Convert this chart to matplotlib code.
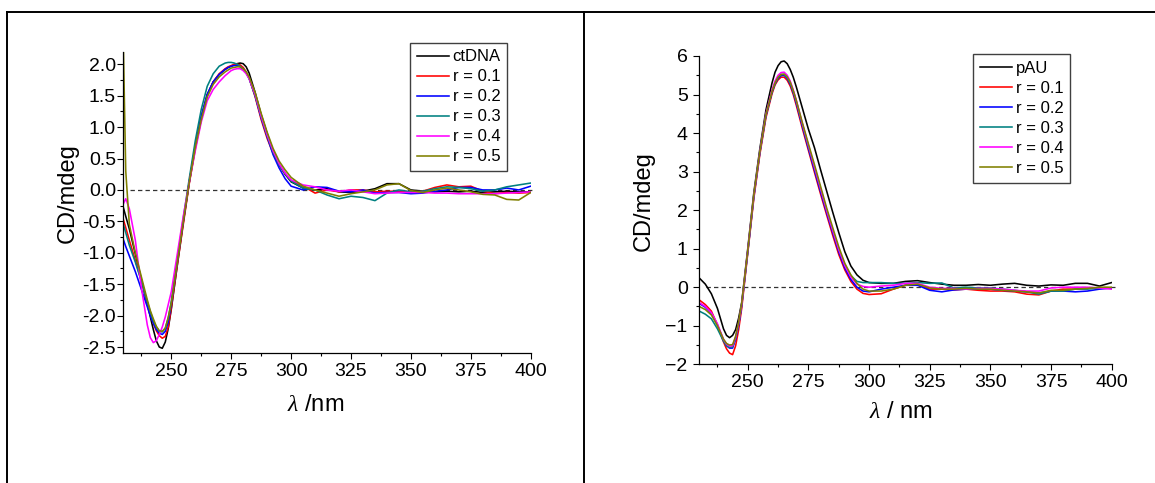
import matplotlib
matplotlib.use("Agg")
import matplotlib.pyplot as plt
from matplotlib.ticker import MultipleLocator, FormatStrFormatter
from matplotlib.lines import Line2D

plt.rcParams["font.family"] = ["Liberation Sans", "DejaVu Sans"]
plt.rcParams["mathtext.fontset"] = "custom"
plt.rcParams["mathtext.it"] = "Liberation Serif:italic"
plt.rcParams["mathtext.rm"] = "Liberation Sans"

# ---------------- ctDNA titration (left panel) ----------------
wl_ct = [230, 231, 232.5, 235, 237.5,
         240, 241.25, 242.5, 243.75, 245,
         246.25, 247.5, 248.75, 250, 252.5,
         255, 257.5, 260, 262.5, 265,
         267.5, 270, 272.5, 273.75, 275,
         276.25, 277.5, 278.75, 280, 281.25,
         282.5, 285, 287.5, 290, 292.5,
         295, 297.5, 300,
         305, 310, 315, 320, 325, 330, 335, 340, 345, 350,
         355, 360, 365, 370, 375, 380, 385, 390, 395, 400]

ct_dna = [-0.28, -0.42, -0.62, -1.02, -1.42,
          -1.82, -2.02, -2.22, -2.40, -2.50,
          -2.52, -2.42, -2.20, -1.90, -1.20,
          -0.52, 0.12, 0.68, 1.15, 1.52,
          1.72, 1.84, 1.92, 1.95, 1.97,
          1.99, 2.01, 2.02, 2.01, 1.96,
          1.86, 1.55, 1.20, 0.90, 0.62,
          0.40, 0.25, 0.13,
          0.03, 0.00, 0.02, -0.03, -0.04, -0.02, 0.02, 0.10, 0.10, 0.00,
          -0.02, -0.03, -0.02, -0.03, -0.02, -0.04, -0.03, -0.02, -0.03, -0.03]
ct_r01 = [-0.47, -0.60, -0.80, -1.12, -1.45,
          -1.80, -1.97, -2.12, -2.24, -2.32,
          -2.36, -2.33, -2.18, -1.88, -1.20,
          -0.55, 0.10, 0.65, 1.12, 1.50,
          1.72, 1.85, 1.93, 1.96, 1.98,
          2.00, 2.00, 1.99, 1.95, 1.88,
          1.78, 1.48, 1.12, 0.82, 0.58,
          0.40, 0.26, 0.15,
          0.06, -0.05, 0.00, -0.03, 0.00, 0.00, -0.03, -0.02, -0.02, -0.03,
          -0.02, 0.04, 0.08, 0.05, 0.06, -0.02, -0.06, -0.04, -0.05, -0.04]
ct_r02 = [-0.79, -0.90, -1.05, -1.30, -1.58,
          -1.86, -2.00, -2.12, -2.22, -2.28,
          -2.30, -2.25, -2.10, -1.82, -1.15,
          -0.50, 0.13, 0.70, 1.18, 1.52,
          1.72, 1.84, 1.92, 1.95, 1.97,
          1.98, 1.98, 1.96, 1.93, 1.87,
          1.78, 1.50, 1.15, 0.85, 0.56,
          0.35, 0.18, 0.06,
          0.00, 0.05, 0.04, -0.02, -0.03, 0.00, -0.05, -0.04, -0.04, -0.06,
          -0.05, -0.02, 0.00, 0.04, 0.04, 0.00, 0.00, 0.03, 0.00, 0.06]
ct_r03 = [-0.55, -0.68, -0.88, -1.15, -1.45,
          -1.78, -1.94, -2.08, -2.18, -2.25,
          -2.26, -2.20, -2.03, -1.78, -1.12,
          -0.45, 0.18, 0.78, 1.28, 1.65,
          1.85, 1.97, 2.02, 2.03, 2.03,
          2.02, 2.00, 1.97, 1.92, 1.86,
          1.77, 1.50, 1.16, 0.86, 0.60,
          0.40, 0.26, 0.14,
          0.03, 0.00, -0.08, -0.14, -0.10, -0.12, -0.17, -0.05, 0.00, -0.03,
          -0.02, 0.02, 0.05, 0.04, 0.02, -0.02, 0.00, 0.05, 0.08, 0.11]
ct_r04 = [-0.22, -0.14, -0.30, -0.80, -1.55,
          -2.15, -2.35, -2.43, -2.40, -2.30,
          -2.18, -2.02, -1.82, -1.62, -1.02,
          -0.42, 0.12, 0.62, 1.08, 1.42,
          1.60, 1.72, 1.82, 1.86, 1.90,
          1.92, 1.93, 1.93, 1.90, 1.85,
          1.77, 1.52, 1.18, 0.88, 0.62,
          0.42, 0.27, 0.16,
          0.08, 0.05, 0.00, -0.02, 0.00, -0.03, -0.06, -0.05, -0.04, -0.04,
          -0.04, -0.05, -0.05, -0.06, -0.06, -0.06, -0.06, -0.05, -0.04, -0.03]
ct_r05 = [2.30, 0.30, -0.55, -1.00, -1.38,
          -1.75, -1.92, -2.05, -2.17, -2.24,
          -2.25, -2.20, -2.03, -1.80, -1.15,
          -0.50, 0.12, 0.68, 1.12, 1.48,
          1.68, 1.80, 1.88, 1.91, 1.94,
          1.95, 1.96, 1.96, 1.93, 1.88,
          1.80, 1.55, 1.22, 0.92, 0.66,
          0.46, 0.32, 0.20,
          0.06, 0.00, -0.05, -0.10, -0.06, -0.03, 0.00, 0.08, 0.10, -0.01,
          -0.04, 0.00, 0.03, 0.00, -0.03, -0.07, -0.08, -0.15, -0.16, -0.04]

# ---------------- pAU titration (right panel) ----------------
wl_au = [230, 232.5, 235, 237.5, 240,
         241.25, 242.5, 243.75, 245, 246.25,
         247.5, 250, 252.5, 255, 257.5,
         260, 261.25, 262.5, 263.75, 265,
         266.25, 267.5, 268.75, 270, 272.5,
         275, 277.5, 280, 282.5, 285,
         287.5, 290, 292.5, 295, 297.5,
         300,
         305, 310, 315, 320, 325, 330, 335, 340, 345, 350,
         355, 360, 365, 370, 375, 380, 385, 390, 395, 400]

p_au = [0.24, 0.08, -0.17, -0.55, -1.08,
        -1.25, -1.31, -1.25, -1.10, -0.80,
        -0.40, 1.00, 2.45, 3.60, 4.60,
        5.30, 5.58, 5.75, 5.85, 5.87,
        5.80, 5.65, 5.45, 5.20, 4.65,
        4.10, 3.62, 3.05, 2.50, 1.95,
        1.42, 0.92, 0.55, 0.32, 0.18,
        0.12,
        0.10, 0.10, 0.15, 0.17, 0.12, 0.08, 0.05, 0.05, 0.07, 0.05,
        0.08, 0.10, 0.05, 0.03, 0.06, 0.05, 0.10, 0.10, 0.03, 0.12]
au_r01 = [-0.33, -0.45, -0.62, -0.98, -1.42,
          -1.60, -1.71, -1.75, -1.52, -1.10,
          -0.55, 0.88, 2.30, 3.45, 4.40,
          5.02, 5.25, 5.38, 5.45, 5.45,
          5.37, 5.22, 5.00, 4.72, 4.12,
          3.55, 2.98, 2.42, 1.88, 1.35,
          0.85, 0.45, 0.15, -0.05, -0.16,
          -0.19,
          -0.17, -0.05, 0.05, 0.07, -0.05, -0.05, -0.07, -0.05, -0.08, -0.10,
          -0.10, -0.12, -0.18, -0.20, -0.10, -0.05, -0.05, -0.02, -0.02, -0.03]
au_r02 = [-0.42, -0.52, -0.68, -0.98, -1.38,
          -1.52, -1.58, -1.58, -1.35, -0.98,
          -0.48, 0.92, 2.35, 3.50, 4.45,
          5.06, 5.28, 5.42, 5.49, 5.50,
          5.42, 5.27, 5.05, 4.78, 4.18,
          3.60, 3.04, 2.48, 1.94, 1.42,
          0.92, 0.50, 0.20, 0.00, -0.10,
          -0.12,
          -0.05, 0.00, 0.05, 0.05, -0.08, -0.12, -0.07, -0.05, -0.05, -0.05,
          -0.08, -0.10, -0.12, -0.15, -0.10, -0.10, -0.12, -0.10, -0.05, -0.02]
au_r03 = [-0.62, -0.70, -0.82, -1.08, -1.40,
          -1.52, -1.56, -1.55, -1.32, -0.95,
          -0.45, 0.92, 2.38, 3.52, 4.48,
          5.08, 5.30, 5.45, 5.52, 5.52,
          5.45, 5.30, 5.08, 4.82, 4.22,
          3.65, 3.10, 2.55, 2.00, 1.48,
          0.98, 0.58, 0.30, 0.15, 0.12,
          0.12,
          0.12, 0.10, 0.10, 0.12, 0.10, 0.11, -0.02, 0.00, -0.02, -0.02,
          -0.05, -0.08, -0.12, -0.18, -0.10, -0.10, -0.05, -0.05, -0.02, -0.02]
au_r04 = [-0.40, -0.50, -0.66, -0.95, -1.35,
          -1.48, -1.53, -1.52, -1.30, -0.93,
          -0.45, 0.95, 2.38, 3.52, 4.50,
          5.12, 5.35, 5.50, 5.57, 5.58,
          5.50, 5.35, 5.12, 4.85, 4.25,
          3.68, 3.12, 2.56, 2.00, 1.48,
          0.98, 0.56, 0.26, 0.08, 0.02,
          0.00,
          0.03, 0.05, 0.10, 0.10, 0.00, -0.03, -0.03, -0.05, -0.03, -0.03,
          -0.05, -0.08, -0.10, -0.10, -0.02, 0.00, 0.00, 0.00, -0.02, -0.05]
au_r05 = [-0.50, -0.58, -0.72, -1.00, -1.35,
          -1.46, -1.50, -1.49, -1.27, -0.90,
          -0.42, 0.95, 2.40, 3.52, 4.48,
          5.08, 5.30, 5.45, 5.52, 5.53,
          5.46, 5.32, 5.10, 4.85, 4.27,
          3.72, 3.18, 2.62, 2.06, 1.55,
          1.05, 0.62, 0.32, 0.10, -0.05,
          -0.10,
          -0.10, -0.05, 0.05, 0.08, -0.02, -0.05, -0.05, -0.03, -0.05, -0.05,
          -0.08, -0.10, -0.12, -0.15, -0.08, -0.08, -0.05, -0.03, 0.00, 0.00]

ratio_labels = ["r = 0.1", "r = 0.2", "r = 0.3", "r = 0.4", "r = 0.5"]
colors = ["black", "#ff0000", "#0000ff", "#008080", "#ff00ff", "#808000"]

fig = plt.figure(figsize=(11.55, 4.83), dpi=100)

# table-like frame around the two panels
frame_kw = dict(color="black", lw=1.4, transform=fig.transFigure, clip_on=False)
fig.add_artist(Line2D([6.5 / 1155, 1.0], [1 - 11.7 / 483] * 2, **frame_kw))
fig.add_artist(Line2D([6.5 / 1155] * 2, [0, 1 - 11.7 / 483], **frame_kw))
fig.add_artist(Line2D([584 / 1155] * 2, [0, 1 - 11.7 / 483], **frame_kw))

ax1 = fig.add_axes([0.1068, 0.2685, 0.3527, 0.6244])
ax2 = fig.add_axes([0.6054, 0.2458, 0.3571, 0.6383])


def draw_panel(ax, wl, series, names, ylim, ymaj, ymin, ytickpad, xlabel,
               xl_pos, yl_pos, leg_anchor):
    ax.axhline(0, xmin=0.016, xmax=1.008, color="#333333", lw=0.9,
               ls=(0, (3.5, 2.5)), clip_on=False, zorder=1)
    for vals, name, c in zip(series, names, colors):
        ax.plot(wl, vals, color=c, lw=1.15, label=name, zorder=2,
                solid_joinstyle="round")
    ax.set_xlim(230, 400)
    ax.set_ylim(*ylim)
    ax.set_xticks([250, 275, 300, 325, 350, 375, 400])
    ax.xaxis.set_minor_locator(MultipleLocator(12.5))
    ax.yaxis.set_major_locator(MultipleLocator(ymaj))
    ax.yaxis.set_minor_locator(MultipleLocator(ymin))
    for side in ("top", "right"):
        ax.spines[side].set_visible(False)
    for side in ("left", "bottom"):
        ax.spines[side].set_linewidth(0.9)
    ax.tick_params(which="major", direction="out", length=4.3, width=0.8,
                   labelsize=14)
    ax.tick_params(which="minor", direction="out", length=2.5, width=0.8)
    ax.tick_params(axis="y", which="major", pad=ytickpad)
    ax.tick_params(axis="x", which="major", pad=2.5)
    ax.set_xlabel(xlabel, fontsize=17, va="center")
    ax.set_ylabel("CD/mdeg", fontsize=17, va="center")
    ax.xaxis.set_label_coords(*xl_pos)
    ax.yaxis.set_label_coords(*yl_pos)
    leg = ax.legend(loc="upper right", bbox_to_anchor=leg_anchor,
                    borderaxespad=0, fontsize=12, handlelength=1.95,
                    handletextpad=0.2, labelspacing=0.3, borderpad=0.4,
                    fancybox=False, framealpha=1, edgecolor="#404040")
    leg.get_frame().set_linewidth(1.0)
    return ax


draw_panel(ax1, wl_ct, [ct_dna, ct_r01, ct_r02, ct_r03, ct_r04, ct_r05],
           ["ctDNA"] + ratio_labels, (-2.6, 2.2), 0.5, 0.25, 1.0,
           r"$\mathit{\lambda}$ /nm", (0.4725, -0.171), (-0.136, 0.53),
           (0.9426, 1.0298))
ax1.yaxis.set_major_formatter(FormatStrFormatter("%.1f"))

draw_panel(ax2, wl_au, [p_au, au_r01, au_r02, au_r03, au_r04, au_r05],
           ["pAU"] + ratio_labels, (-2, 6), 1, 0.5, 4.0,
           r"$\mathit{\lambda}$ / nm", (0.4887, -0.155), (-0.1355, 0.53),
           (0.899, 1.0055))

fig.savefig("out.png", dpi=100)
